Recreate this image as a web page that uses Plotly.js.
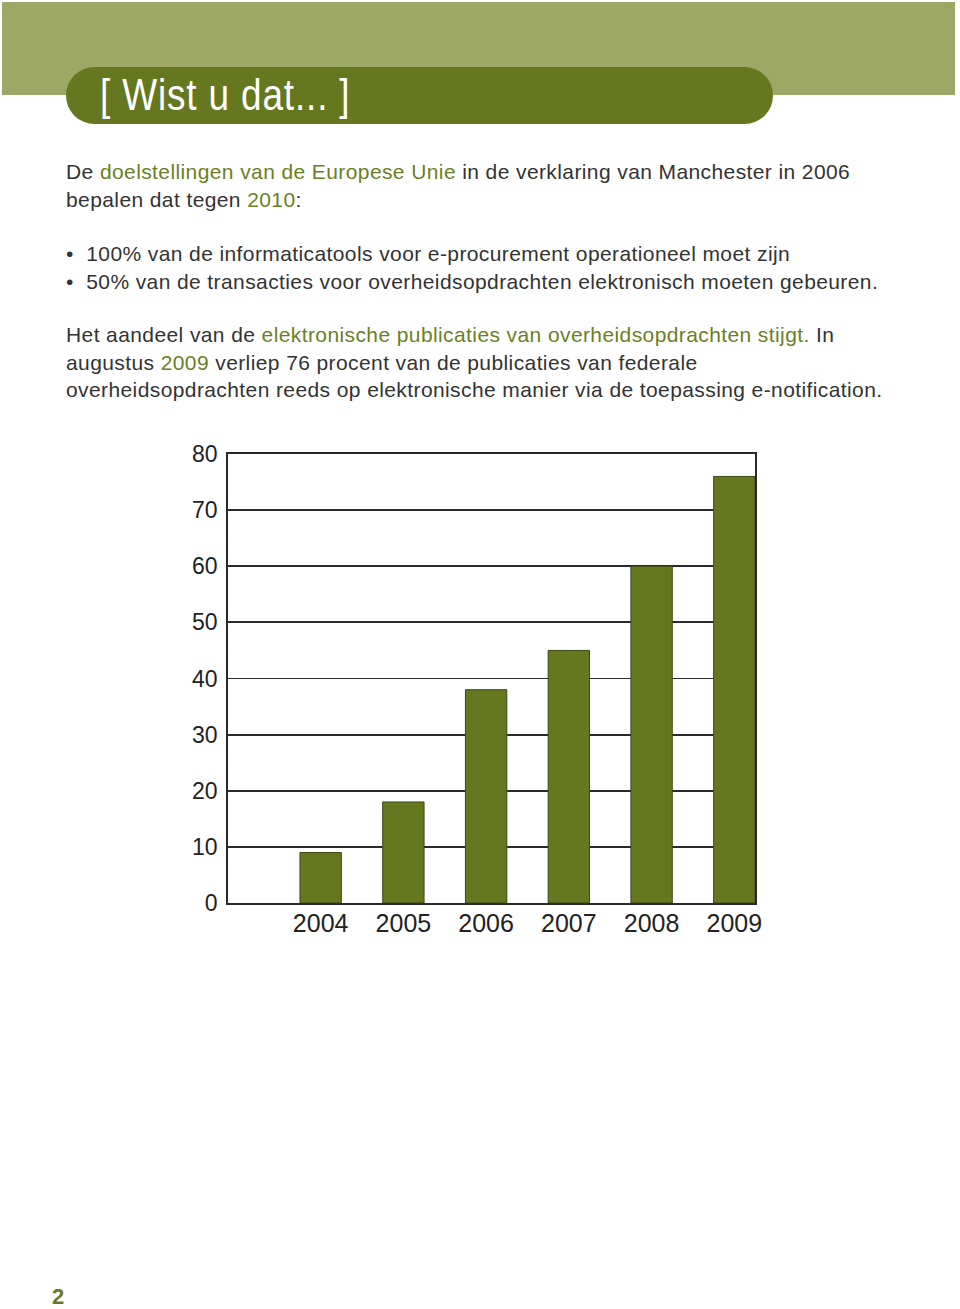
<!DOCTYPE html>
<html>
<head>
<meta charset="utf-8">
<script src="https://cdn.plot.ly/plotly-3.0.1.min.js"></script>
<style>
  html, body { margin: 0; padding: 0; background: #fff; }
  body { width: 960px; height: 1309px; position: relative; overflow: hidden; font-family: "Liberation Sans", Arial, sans-serif; }
  #band { position: absolute; left: 2px; top: 2px; width: 953px; height: 93px; background: #9da866; }
  #pill { position: absolute; left: 66px; top: 67px; width: 707px; height: 57px; background: #66781f; border-radius: 29px; }
  #pill span { position: absolute; left: 34px; top: 3px; color: #fff; font-family: "Liberation Sans", sans-serif; font-size: 44px; line-height: 50px; white-space: nowrap; transform: scaleX(0.84); transform-origin: 0 50%; letter-spacing: 1px; }
  .txt { position: absolute; left: 66px; color: #333; font-size: 21px; letter-spacing: 0.4px; line-height: 27.5px; white-space: nowrap; }
  .g { color: #6b7f24; }
  #chart { position: absolute; left: 0; top: 0; width: 960px; height: 1309px; }
  #pg { position: absolute; left: 52px; top: 1284px; color: #66781f; font-weight: bold; font-size: 22px; }
</style>
</head>
<body>
<div id="band"></div>
<div id="pill"><span>[ Wist u dat... ]</span></div>
<div class="txt" style="top:158px">De <span class="g">doelstellingen van de Europese Unie</span> in de verklaring van Manchester in 2006<br>bepalen dat tegen <span class="g">2010</span>:</div>
<div class="txt" style="top:240px">&bull;&nbsp; 100% van de informaticatools voor e-procurement operationeel moet zijn<br>&bull;&nbsp; 50% van de transacties voor overheidsopdrachten elektronisch moeten gebeuren.</div>
<div class="txt" style="top:321px">Het aandeel van de <span class="g">elektronische publicaties van overheidsopdrachten stijgt.</span> In<br>augustus <span class="g">2009</span> verliep 76 procent van de publicaties van federale<br>overheidsopdrachten reeds op elektronische manier via de toepassing e-notification.</div>
<div id="chart"></div>
<div id="pg">2</div>
<script>
const years = ["2004", "2005", "2006", "2007", "2008", "2009"];
const values = [9, 18, 38, 45, 60, 76];
const yTicks = [0, 10, 20, 30, 40, 50, 60, 70, 80];

Plotly.newPlot("chart", [{
  type: "bar",
  x: years,
  y: values,
  width: 0.5,
  marker: { color: "#66781f", line: { color: "#3c4714", width: 1 } },
  hoverinfo: "skip"
}], {
  width: 960, height: 1309,
  margin: { l: 228, r: 205, t: 454, b: 406, pad: 0 },
  paper_bgcolor: "rgba(0,0,0,0)",
  plot_bgcolor: "rgba(0,0,0,0)",
  showlegend: false,
  font: { family: "Liberation Sans, Arial, sans-serif", color: "#222" },
  xaxis: {
    type: "category",
    range: [-1.12, 5.25],
    showgrid: false,
    showline: true, mirror: true, linecolor: "#2a2a2a", linewidth: 1.8,
    ticks: "", ticklabelstandoff: -3, tickfont: { size: 25, color: "#222" },
    fixedrange: true
  },
  yaxis: {
    range: [0, 80],
    tickvals: yTicks,
    showgrid: true, gridcolor: "#2a2a2a", gridwidth: 1.8,
    zeroline: false,
    showline: true, mirror: true, linecolor: "#2a2a2a", linewidth: 1.8,
    ticks: "", ticklabelstandoff: 4, tickfont: { size: 23, color: "#222" },
    fixedrange: true
  }
}, { staticPlot: true });
</script>
</body>
</html>
